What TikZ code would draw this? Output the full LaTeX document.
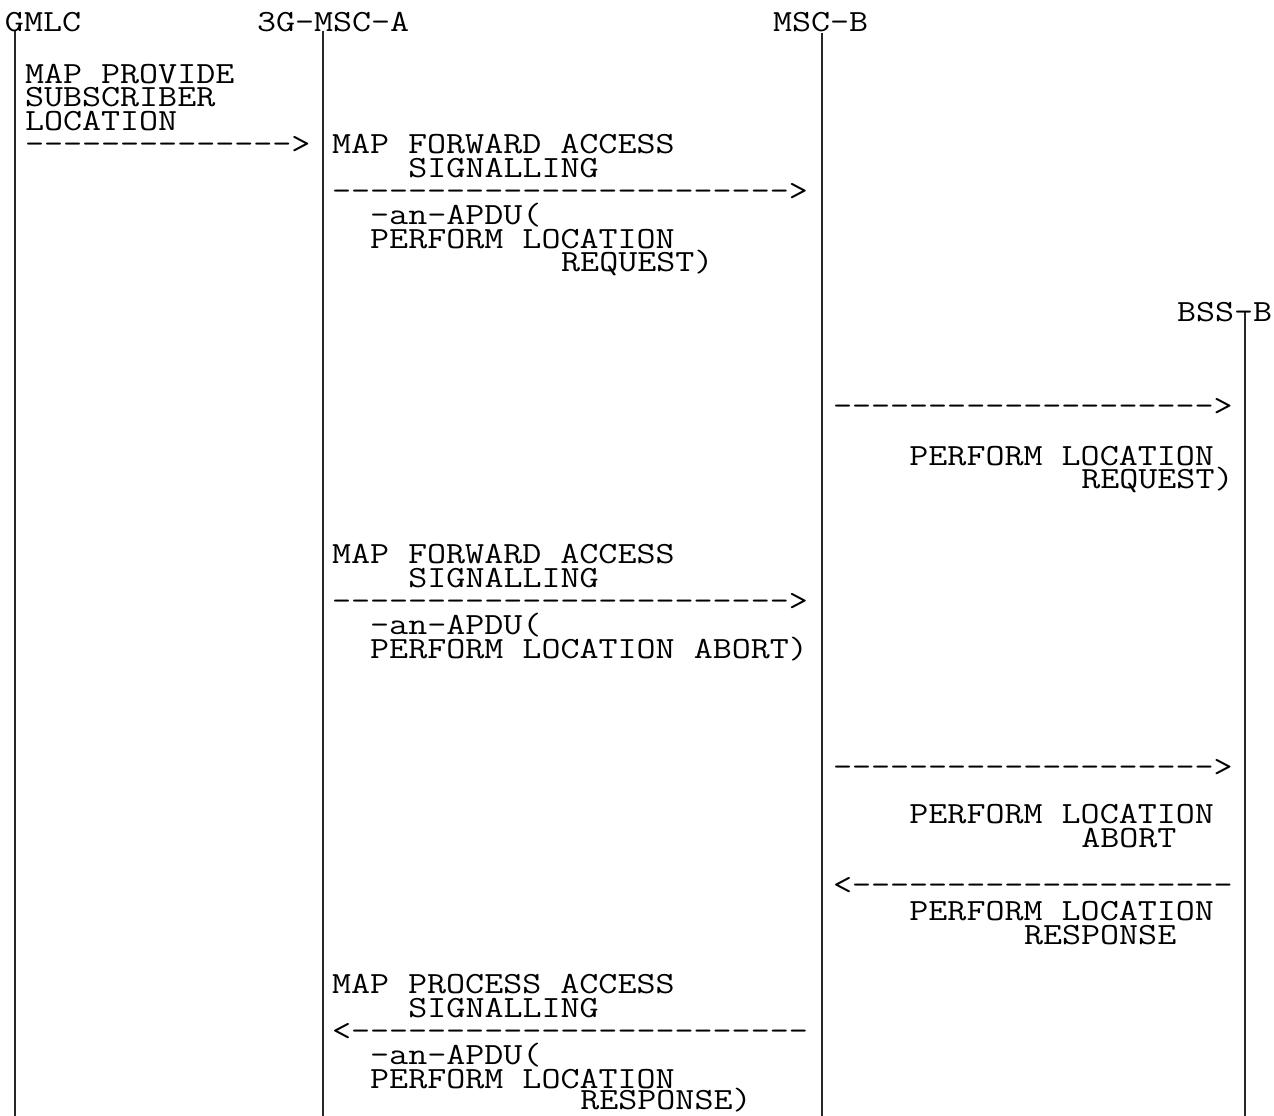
\documentclass[tikz,border=0pt]{standalone}
\usepackage{fontspec}
\newfontfamily\courfont[FakeStretch=1.2,Ligatures=TeXOff]{Latin Modern Mono}
\begin{document}
\begin{tikzpicture}[x=1pt,y=-1pt,
  txt/.style={anchor=base west,inner sep=0pt,outer sep=0pt,text height=18pt,text depth=2pt,font=\courfont\fontsize{30.8}{24}\selectfont},
  life/.style={line width=2pt,draw=black!85}]
\useasboundingbox (0,0) rectangle (1274,1116);
% lifelines
\coordinate (gtop) at (15,31);   \coordinate (gbot) at (15,1116);
\coordinate (atop) at (323,31);  \coordinate (abot) at (323,1116);
\coordinate (btop) at (822,33);  \coordinate (bbot) at (822,1116);
\coordinate (stop) at (1245,312);\coordinate (sbot) at (1245,1116);
\draw[life] (gtop) -- (gbot);
\draw[life] (atop) -- (abot);
\draw[life] (btop) -- (bbot);
\draw[life] (stop) -- (sbot);
% headers
\node[txt] (hg) at (5,32) {GMLC};
\node[txt] (ha) at (257,32) {3G-MSC-A};
\node[txt] (hb) at (773,32) {MSC-B};
\node[txt] (hs) at (1177,321.5) {BSS-B};
% GMLC -> 3G-MSC-A
\node[txt] (p1) at (25,83) {MAP PROVIDE};
\node[txt] (p2) at (25,106.5) {SUBSCRIBER};
\node[txt] (p3) at (25,130) {LOCATION};
\node[txt] (p4) at (25,153.3) {-------------->};
% block 1
\node[txt] (f1) at (332,153.3) {MAP FORWARD ACCESS};
\node[txt] (f2) at (408.4,177) {SIGNALLING};
\node[txt] (f3) at (332,200.7) {------------------------>};
\node[txt] (f4) at (370.2,224.4) {-an-APDU(};
\node[txt] (f5) at (370.2,248.1) {PERFORM LOCATION};
\node[txt] (f6) at (561.2,271.8) {REQUEST)};
% BSS request
\node[txt] (r1) at (833,415) {-------------------->};
\node[txt] (r2) at (909.4,465) {PERFORM LOCATION};
\node[txt] (r3) at (1081.3,488.5) {REQUEST)};
% block 2
\node[txt] (g1) at (332,563.3) {MAP FORWARD ACCESS};
\node[txt] (g2) at (408.4,587) {SIGNALLING};
\node[txt] (g3) at (332,610.7) {------------------------>};
\node[txt] (g4) at (370.2,634.4) {-an-APDU(};
\node[txt] (g5) at (370.2,658.1) {PERFORM LOCATION ABORT)};
% BSS abort / response
\node[txt] (s1) at (833,776.3) {-------------------->};
\node[txt] (s2) at (909.4,823.3) {PERFORM LOCATION};
\node[txt] (s3) at (1081.3,847.3) {ABORT};
\node[txt] (s4) at (833,894.7) {<--------------------};
\node[txt] (s5) at (909.4,920) {PERFORM LOCATION};
\node[txt] (s6) at (1024,944) {RESPONSE};
% block 3
\node[txt] (k1) at (332,993.3) {MAP PROCESS ACCESS};
\node[txt] (k2) at (408.4,1017) {SIGNALLING};
\node[txt] (k3) at (332,1040.7) {<------------------------};
\node[txt] (k4) at (370.2,1064.4) {-an-APDU(};
\node[txt] (k5) at (370.2,1088.1) {PERFORM LOCATION};
\node[txt] (k6) at (580.3,1109.5) {RESPONSE)};
\end{tikzpicture}
\end{document}
